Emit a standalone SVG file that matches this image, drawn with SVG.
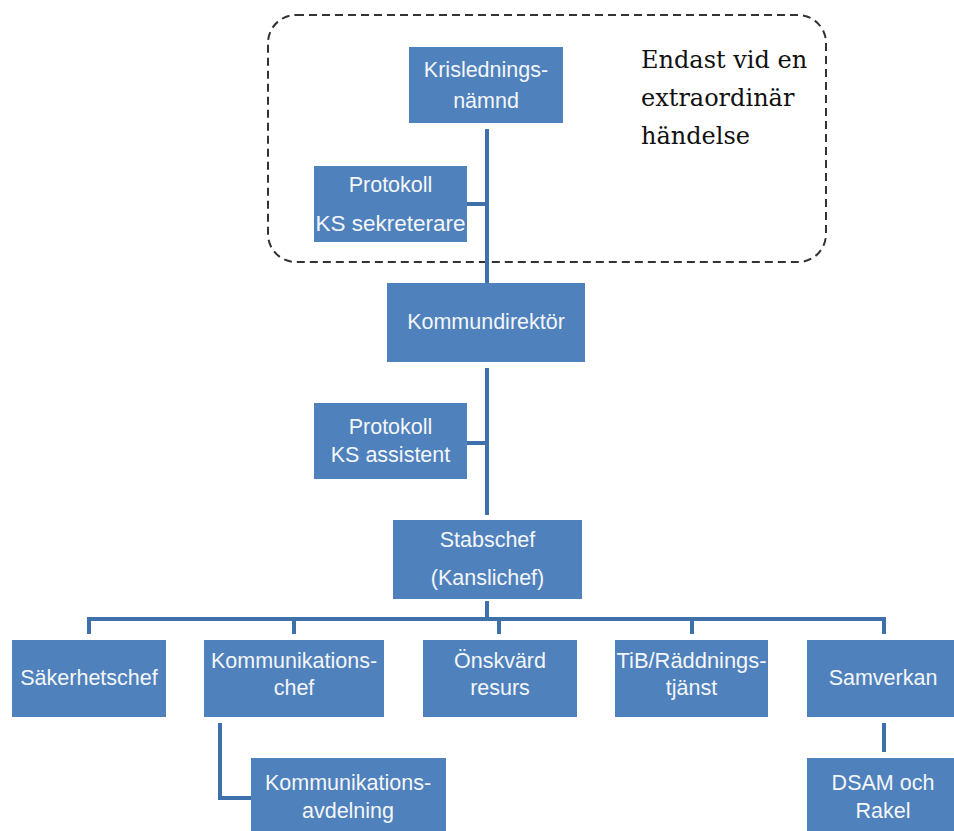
<svg xmlns="http://www.w3.org/2000/svg" width="954" height="831" viewBox="0 0 954 831">
<style>
.box{fill:#4F81BD;}
.t{font-family:"Liberation Sans",Arial,sans-serif;font-size:21.5px;fill:#F4F6F8;text-anchor:middle;}
.c{stroke:#3E70AA;stroke-width:4;fill:none;}
.note{font-family:"DejaVu Serif",Georgia,serif;font-size:24px;fill:#111;}
</style>
<rect width="954" height="831" fill="#fff"/>
<rect x="268" y="15" width="558" height="247" rx="28" fill="none" stroke="#333" stroke-width="2" stroke-dasharray="8 5"/>
<g id="note">
<text class="note" x="641" y="68">Endast vid en</text>
<text class="note" x="641" y="106">extraordinär</text>
<text class="note" x="641" y="144">händelse</text>
</g>
<g id="connectors">
<path class="c" d="M487 129V283"/>
<path class="c" d="M467 204H487"/>
<path class="c" d="M487 368V515"/>
<path class="c" d="M467 443H487"/>
<path class="c" d="M487 601V619"/>
<path class="c" d="M89 634V619H884V634"/>
<path class="c" d="M294 619V634"/>
<path class="c" d="M499 619V634"/>
<path class="c" d="M692 619V634"/>
<path class="c" d="M220 723V798H251"/>
<path class="c" d="M884 723V752"/>
</g>
<g id="krisledningsnamnd"><rect class="box" x="409" y="47" width="154" height="76"/><text class="t" x="486" y="77">Krislednings-</text><text class="t" x="486" y="108">nämnd</text></g>
<g id="ks-sekreterare"><rect class="box" x="314" y="166" width="153" height="76"/><text class="t" x="390.5" y="192">Protokoll</text><text class="t" x="390.5" y="231" textLength="150" lengthAdjust="spacingAndGlyphs">KS sekreterare</text></g>
<g id="kommundirektor"><rect class="box" x="387" y="283" width="198" height="79"/><text class="t" x="486" y="329">Kommundirektör</text></g>
<g id="ks-assistent"><rect class="box" x="314" y="403" width="153" height="76"/><text class="t" x="390.5" y="434">Protokoll</text><text class="t" x="390.5" y="462">KS assistent</text></g>
<g id="stabschef"><rect class="box" x="393" y="520" width="189" height="79"/><text class="t" x="487.5" y="547">Stabschef</text><text class="t" x="487.5" y="585">(Kanslichef)</text></g>
<g id="sakerhetschef"><rect class="box" x="12" y="640" width="154" height="77"/><text class="t" x="89" y="685">Säkerhetschef</text></g>
<g id="kommunikationschef"><rect class="box" x="204" y="640" width="180" height="77"/><text class="t" x="294" y="668">Kommunikations-</text><text class="t" x="294" y="695">chef</text></g>
<g id="onskvard-resurs"><rect class="box" x="423" y="640" width="154" height="77"/><text class="t" x="500" y="668">Önskvärd</text><text class="t" x="500" y="695">resurs</text></g>
<g id="tib"><rect class="box" x="615" y="640" width="153" height="77"/><text class="t" x="691.5" y="668" textLength="150" lengthAdjust="spacingAndGlyphs">TiB/Räddnings-</text><text class="t" x="691.5" y="695">tjänst</text></g>
<g id="samverkan"><rect class="box" x="807" y="640" width="147" height="77"/><text class="t" x="883" y="685">Samverkan</text></g>
<g id="kommunikationsavdelning"><rect class="box" x="251" y="758" width="195" height="80"/><text class="t" x="348" y="790">Kommunikations-</text><text class="t" x="348" y="818">avdelning</text></g>
<g id="dsam"><rect class="box" x="807" y="758" width="147" height="80"/><text class="t" x="883" y="790">DSAM och</text><text class="t" x="883" y="818">Rakel</text></g>
</svg>
